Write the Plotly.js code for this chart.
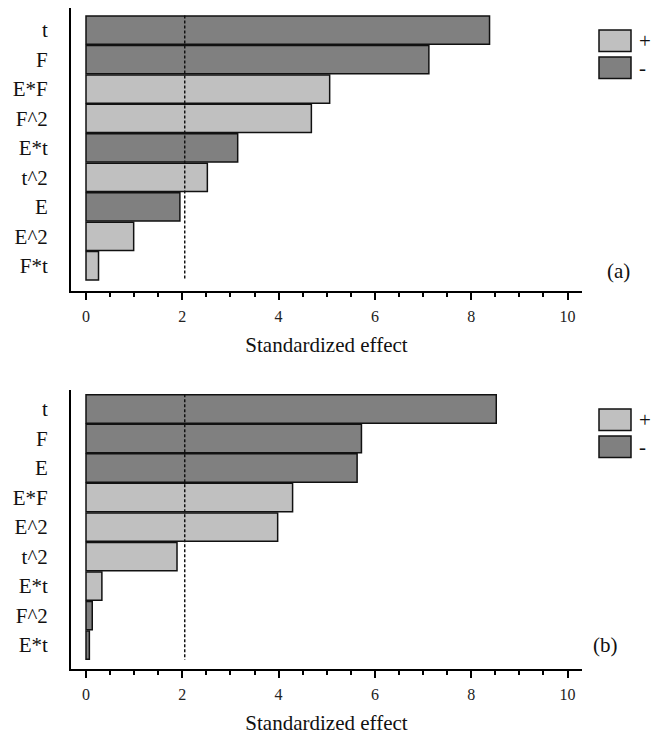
<!DOCTYPE html>
<html>
<head>
<meta charset="utf-8">
<script src="https://cdn.plot.ly/plotly-3.0.1.min.js"></script>
<style>
  html, body { margin: 0; padding: 0; background: #fff; }
  #chart { width: 651px; height: 737px; }
  #chart svg text { font-family: 'Liberation Serif', 'Times New Roman', serif !important; }
</style>
</head>
<body>
<div id="chart"></div>
<script>
// Pareto charts of standardized effects, (a) and (b)
var labelsA = ['t', 'F', 'E*F', 'F^2', 'E*t', 't^2', 'E', 'E^2', 'F*t'];
var valuesA = [8.38, 7.12, 5.06, 4.68, 3.15, 2.52, 1.95, 0.99, 0.26];
var signsA  = ['-', '-', '+', '+', '-', '+', '-', '+', '+'];

var labelsB = ['t', 'F', 'E', 'E*F', 'E^2', 't^2', 'E*t', 'F^2', 'E*t'];
var valuesB = [8.52, 5.72, 5.63, 4.29, 3.98, 1.89, 0.33, 0.13, 0.07];
var signsB  = ['-', '-', '-', '+', '+', '+', '+', '-', '-'];

var xTicks = [0, 2, 4, 6, 8, 10];
var critical = 2.05;   // significance threshold (dotted reference line)

var W = 651, H = 737;
var FONT = 'Liberation Serif';
var LIGHT = '#c0c0c0', DARK = '#808080';
var colorOf = { '+': LIGHT, '-': DARK };

function px(x) { return x / W; }
function py(y) { return 1 - y / H; }

function barTraces(labels, values, signs, xa, ya) {
  var idx = labels.map(function (_, i) { return i; });
  return ['+', '-'].map(function (s) {
    var sel = idx.filter(function (i) { return signs[i] === s; });
    return {
      type: 'bar', orientation: 'h',
      name: s,
      x: sel.map(function (i) { return values[i]; }),
      y: sel,
      xaxis: xa, yaxis: ya,
      marker: { color: colorOf[s], line: { color: '#111', width: 1.5 } },
      showlegend: false
    };
  });
}

var data = []
  .concat(barTraces(labelsA, valuesA, signsA, 'x', 'y'))
  .concat(barTraces(labelsB, valuesB, signsB, 'x2', 'y2'));

function xAxis(anchor) {
  return {
    anchor: anchor,
    domain: [px(71), px(582)],
    range: [-0.3115, 10.30],
    showline: true, linecolor: '#000', linewidth: 2,
    showgrid: false, zeroline: false,
    ticks: 'outside', ticklen: 7, tickwidth: 2, tickcolor: '#000',
    tickvals: xTicks, ticktext: xTicks.map(String),
    minor: { ticks: 'outside', dtick: 0.5, ticklen: 4, tickwidth: 1.5, tickcolor: '#000' },
    tickfont: { family: FONT, size: 16, color: '#222' },
    ticklabelstandoff: 3,
    title: { text: 'Standardized effect', font: { family: FONT, size: 21, color: '#111' }, standoff: 14 }
  };
}

function yAxis(anchor, top, bottom, r0, r1, labels) {
  return {
    anchor: anchor,
    domain: [py(bottom), py(top)],
    range: [r1, r0],
    showline: true, linecolor: '#000', linewidth: 2,
    showgrid: false, zeroline: false,
    tickvals: labels.map(function (_, i) { return i; }),
    ticktext: labels,
    tickfont: { family: FONT, size: 21, color: '#111' },
    ticklabelstandoff: 17
  };
}

// legend boxes and panel tags
function legend(top) {
  var shapes = [], ann = [];
  [['+', LIGHT, 0], ['-', DARK, 27]].forEach(function (e) {
    var y0 = top + e[2], y1 = y0 + 21.5;
    shapes.push({
      type: 'rect', xref: 'paper', yref: 'paper',
      x0: px(599), x1: px(631), y0: py(y1), y1: py(y0),
      fillcolor: e[1], line: { color: '#111', width: 1.5 }
    });
    ann.push({
      xref: 'paper', yref: 'paper', x: px(637), y: py((y0 + y1) / 2),
      xanchor: 'left', yanchor: 'middle', showarrow: false,
      text: e[0], font: { family: FONT, size: 21, color: '#111' }
    });
  });
  return { shapes: shapes, ann: ann };
}

var legA = legend(30), legB = legend(409);

var shapes = [
  { type: 'line', xref: 'x', yref: 'y', x0: critical, x1: critical, y0: -0.5, y1: 8.5,
    line: { color: '#111', width: 1.5, dash: '3px,2px' } },
  { type: 'line', xref: 'x2', yref: 'y2', x0: critical, x1: critical, y0: -0.5, y1: 8.5,
    line: { color: '#111', width: 1.5, dash: '3px,2px' } }
].concat(legA.shapes, legB.shapes);

var annotations = legA.ann.concat(legB.ann, [
  { xref: 'paper', yref: 'paper', x: px(618), y: py(271), xanchor: 'center', yanchor: 'middle',
    showarrow: false, text: '(a)', font: { family: FONT, size: 21, color: '#111' } },
  { xref: 'paper', yref: 'paper', x: px(605), y: py(645), xanchor: 'center', yanchor: 'middle',
    showarrow: false, text: '(b)', font: { family: FONT, size: 21, color: '#111' } }
]);

var layout = {
  width: W, height: H,
  margin: { l: 0, r: 0, t: 0, b: 0 },
  font: { family: FONT },
  bargap: 0.04,
  barmode: 'overlay',
  showlegend: false,
  xaxis: xAxis('y'),
  yaxis: yAxis('x', 8, 290.5, -0.751, 8.84, labelsA),
  xaxis2: xAxis('y2'),
  yaxis2: yAxis('x2', 390, 668.5, -0.645, 8.795, labelsB),
  shapes: shapes,
  annotations: annotations
};

// make sure every svg label ends up in the serif face
function serifAll() {
  var nodes = document.querySelectorAll('#chart svg text');
  for (var i = 0; i < nodes.length; i++) {
    nodes[i].setAttribute('font-family', FONT);
    nodes[i].style.setProperty('font-family', '"Liberation Serif", serif', 'important');
  }
}

Plotly.newPlot('chart', data, layout, { displayModeBar: false }).then(function (gd) {
  serifAll();
  gd.on('plotly_afterplot', serifAll);
  setTimeout(serifAll, 30);
});
</script>
</body>
</html>
